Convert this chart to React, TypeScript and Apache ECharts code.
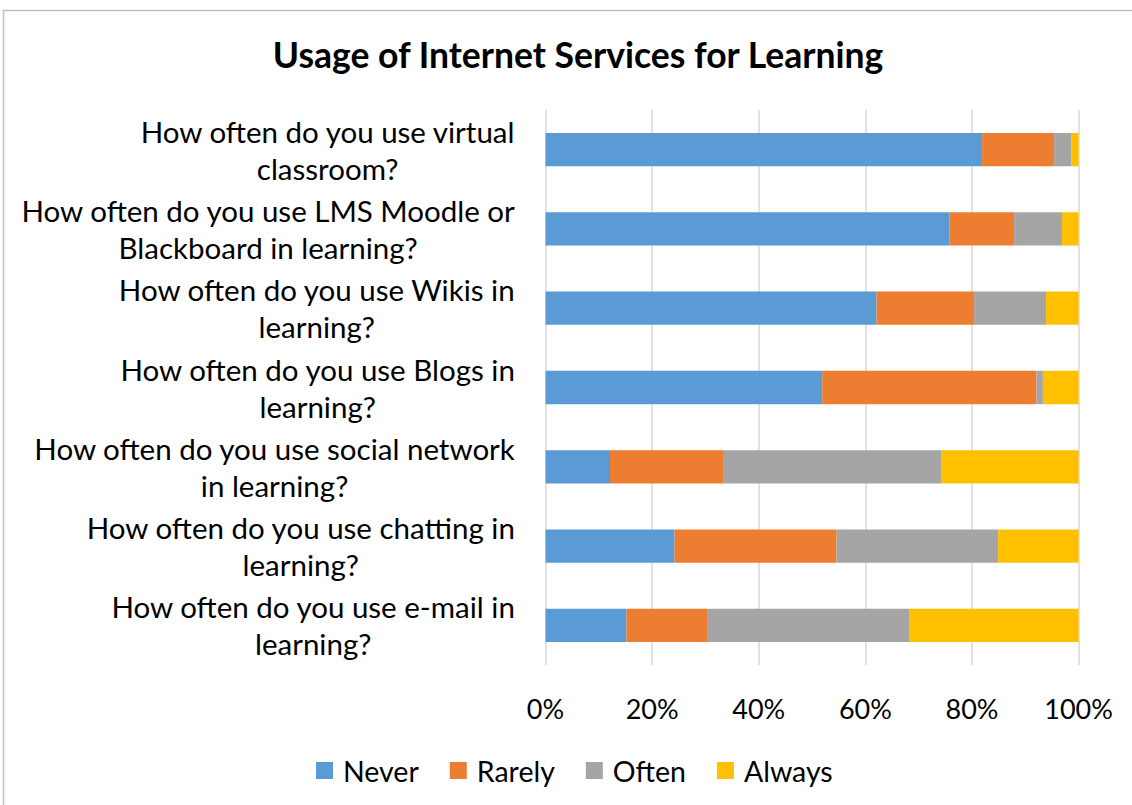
import React, { useEffect, useRef } from "react";
import * as echarts from "echarts";

const categories = [
  "How often do you use virtual\nclassroom?",
  "How often do you use LMS Moodle or\nBlackboard in learning?",
  "How often do you use Wikis in\nlearning?",
  "How often do you use Blogs in\nlearning?",
  "How often do you use social network\nin learning?",
  "How often do you use chatting in\nlearning?",
  "How often do you use e-mail in\nlearning?",
];

const seriesNames = ["Never", "Rarely", "Often", "Always"];
const never = [81.9, 75.8, 62.1, 51.9, 12.1, 24.2, 15.2];
const rarely = [13.5, 12.1, 18.3, 40.2, 21.2, 30.4, 15.1];
const often = [3.2, 9.0, 13.5, 1.2, 40.9, 30.3, 37.9];
const always = [1.4, 3.1, 6.1, 6.7, 25.8, 15.1, 31.8];
const seriesValues = [never, rarely, often, always];
const colors = ["#5B9BD5", "#ED7D31", "#A5A5A5", "#FFC000"];
const xTicks = [0, 20, 40, 60, 80, 100];

const FONT = "Lato";

export default function App() {
  const ref = useRef<HTMLDivElement>(null);
  useEffect(() => {
    if (!ref.current) return;
    const chart = echarts.init(ref.current, undefined, { renderer: "svg" });
    chart.setOption({
      animation: false,
      backgroundColor: "#ffffff",
      textStyle: { fontFamily: FONT },
      title: {
        text: "Usage of Internet Services for Learning",
        left: 573,
        top: 31,
        textAlign: "center",
        textStyle: { fontFamily: FONT, fontWeight: "bold", fontSize: 35.5, color: "#000" },
      },
      graphic: [
        {
          type: "rect",
          shape: { x: 3.5, y: 10.5, width: 1140, height: 800 },
          style: { fill: "none", stroke: "#BFBFBF", lineWidth: 1.5 },
          silent: true,
        },
      ],
      legend: {
        data: seriesNames,
        left: 316,
        top: 756,
        padding: 0,
        itemWidth: 17,
        itemHeight: 17,
        itemGap: 31,
        icon: "rect",
        textStyle: { fontFamily: FONT, fontSize: 28.5, color: "#000", padding: [0, 0, 0, 5] },
      },
      grid: { left: 545.5, right: 53.4, top: 110, bottom: 140, containLabel: false },
      xAxis: {
        type: "value",
        min: 0,
        max: 100,
        interval: 20,
        axisLine: { show: false },
        axisTick: { show: false },
        splitLine: { show: true, lineStyle: { color: "#D9D9D9", width: 1.5 } },
        axisLabel: {
          formatter: (v: number) => (xTicks.includes(v) ? v + "%" : ""),
          fontFamily: FONT,
          fontSize: 27,
          color: "#000",
          margin: 30,
        },
      },
      yAxis: {
        type: "category",
        data: categories,
        inverse: true,
        axisLine: { show: false },
        axisTick: { show: false },
        splitLine: { show: false },
        axisLabel: {
          margin: 30,
          formatter: (v: string) =>
            v
              .split("\n")
              .map((l) => "{c|" + l + "}")
              .join("\n"),
          rich: {
            c: { align: "center", fontFamily: FONT, fontSize: 29.5, lineHeight: 37, color: "#000" },
          },
        },
      },
      series: seriesNames.map((name, i) => ({
        name,
        type: "bar",
        stack: "total",
        data: seriesValues[i],
        barCategoryGap: "58%",
        itemStyle: { color: colors[i] },
      })),
    });
    return () => chart.dispose();
  }, []);
  return (
    <div
      ref={ref}
      style={{ position: "fixed", left: 0, top: 0, width: 1132, height: 805 }}
    />
  );
}
